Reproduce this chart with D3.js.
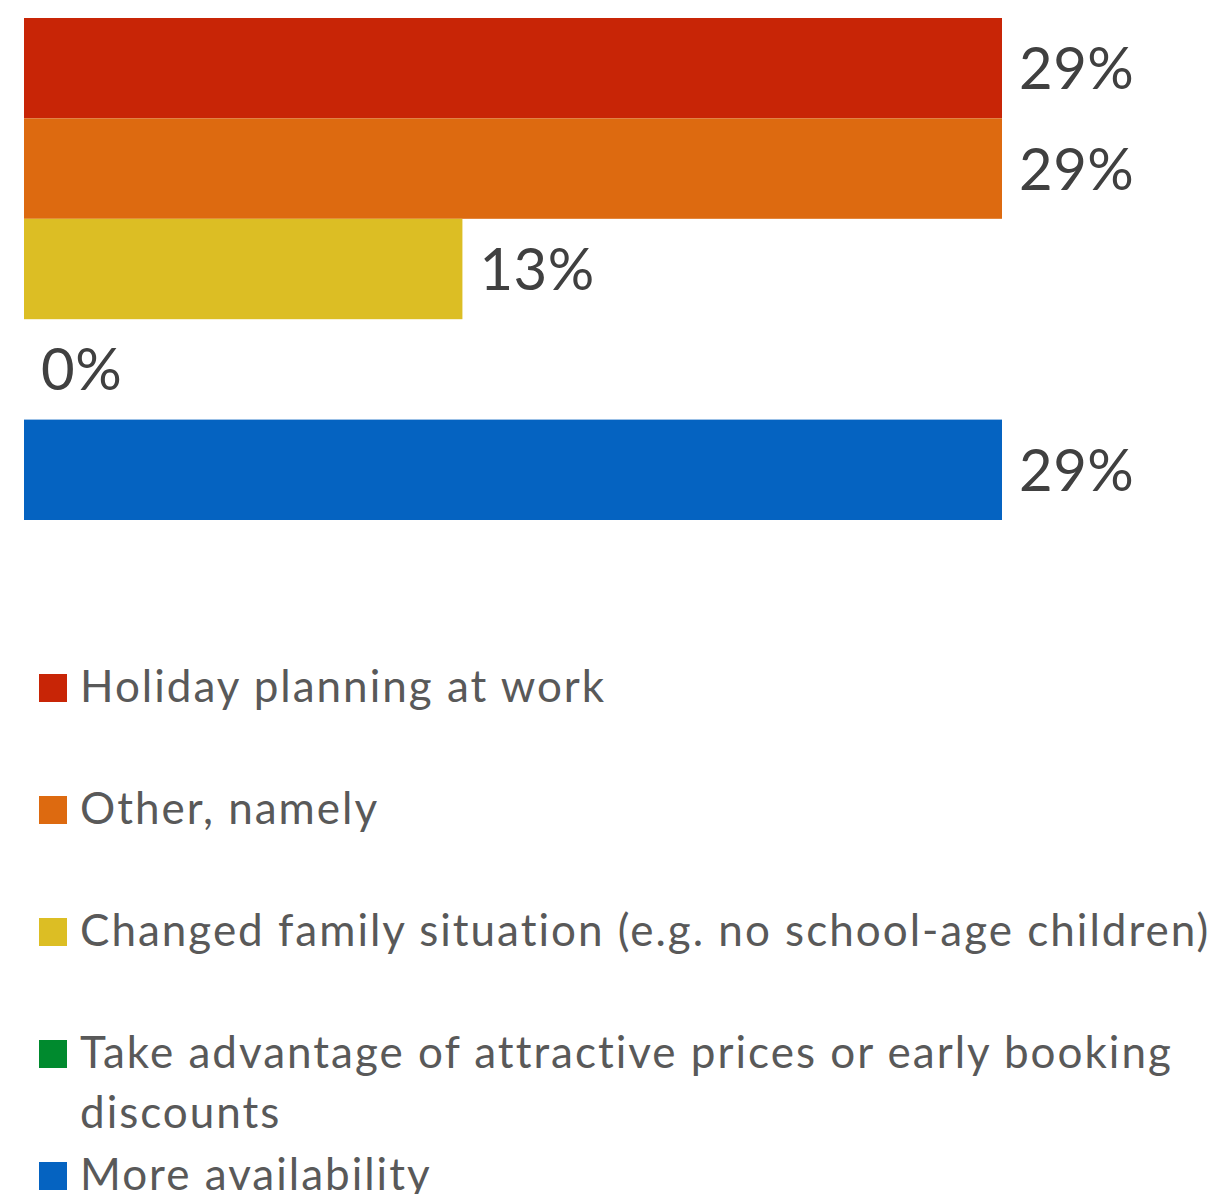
<!DOCTYPE html>
<html>
<head>
<meta charset="utf-8">
<script src="https://cdn.jsdelivr.net/npm/d3@7"></script>
<style>
  html, body { margin: 0; padding: 0; background: #fff; }
  svg { display: block; }
</style>
</head>
<body>
<svg id="chart" width="1224" height="1194"></svg>
<script>
// Reasons given, share of respondents (%)
const categories = [
  "Holiday planning at work",
  "Other, namely",
  "Changed family situation (e.g. no school-age children)",
  "Take advantage of attractive prices or early booking discounts",
  "More availability"
];
const values = [29, 29, 13, 0, 29];
const colors = ["#C82506", "#DD6A10", "#DCBE24", "#008A2E", "#0563C1"];

const W = 1224, H = 1194;
const svg = d3.select("#chart");
const fontFamily = "Lato, 'Open Sans', sans-serif";

const plot = { left: 24, top: 18, bottom: 520 };

const x = d3.scaleLinear().domain([0, 29]).range([plot.left, 1002]);
const y = d3.scaleBand().domain(d3.range(categories.length))
  .range([plot.top, plot.bottom]).padding(0);

// Bars
svg.append("g").selectAll("rect")
  .data(values)
  .join("rect")
  .attr("x", x(0))
  .attr("y", (d, i) => y(i))
  .attr("width", d => x(d) - x(0))
  .attr("height", y.bandwidth())
  .attr("fill", (d, i) => colors[i]);

// Value labels
svg.append("g").selectAll("text")
  .data(values)
  .join("text")
  .attr("x", d => x(d) + 17)
  .attr("y", (d, i) => y(i) + y.bandwidth() / 2 + 21)
  .attr("font-family", fontFamily)
  .attr("font-size", 58)
  .attr("letter-spacing", 0.5)
  .attr("fill", "#404040")
  .text(d => d + "%");

// Legend
const legend = svg.append("g");
const legendTop = 702, legendStep = 122, lineStep = 60, textX = 80, maxW = 1150;
categories.forEach((name, i) => {
  const base = legendTop + i * legendStep;
  legend.append("rect")
    .attr("x", 39).attr("y", base - 28)
    .attr("width", 28).attr("height", 28)
    .attr("fill", colors[i]);
  const t = legend.append("text")
    .attr("font-family", fontFamily)
    .attr("font-size", 44)
    .attr("letter-spacing", 2)
    .attr("fill", "#595959");
  // simple word wrap
  const words = name.split(" ");
  let line = [], lineNo = 0;
  let tspan = t.append("tspan").attr("x", textX).attr("y", base);
  words.forEach(w => {
    line.push(w);
    tspan.text(line.join(" "));
    if (tspan.node().getComputedTextLength() > maxW && line.length > 1) {
      line.pop();
      tspan.text(line.join(" "));
      line = [w];
      lineNo++;
      tspan = t.append("tspan").attr("x", textX).attr("y", base + lineNo * lineStep).text(w);
    }
  });
});
</script>
</body>
</html>
